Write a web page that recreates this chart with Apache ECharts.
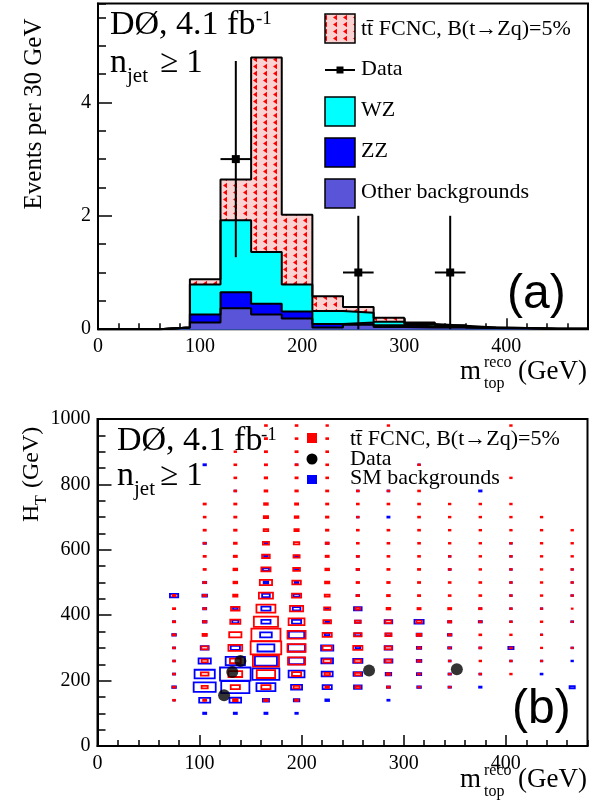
<!DOCTYPE html>
<html><head><meta charset="utf-8">
<script src="https://cdn.jsdelivr.net/npm/echarts@6/dist/echarts.min.js"></script>
<style>html,body{margin:0;padding:0;background:#fff}#c{width:600px;height:804px}</style>
</head><body><div id="c"></div>
<script>
// ---------- Panel (a): stacked histogram, 30 GeV bins ----------
const binEdges = [0,30,60,90,120,150,180,210,240,270,300,330,360,390,420,450,480];
const otherBkg = [0,0,0.03,0.12,0.37,0.26,0.19,0.03,0.08,0.04,0.03,0.03,0.02,0.015,0.01,0.01];
const zzBkg    = [0,0,0,0.14,0.28,0.19,0.12,0.06,0.04,0.03,0.02,0.01,0,0,0,0];
const wzBkg    = [0,0,0,0.53,1.27,0.91,0.48,0.23,0.17,0.06,0.04,0.02,0.01,0.005,0,0];
const fcncSig  = [0,0,0,0.09,0.72,3.43,1.23,0.26,0.10,0.07,0.03,0.01,0,0,0,0];

const dataMass    = [135, 255, 345];
const dataEvents  = [3, 1, 1];
const dataErrLow  = [1.73, 1, 1];
const dataErrHigh = [1.73, 1, 1];
const dataBinHalf = [15, 15, 15];

// ---------- Panel (b): 2D box plot, cells 30 GeV x 40 GeV ----------
const cellW = 30, cellH = 40;
// [m_top centre, H_T centre, relative box size]
const fcncCells = [
 [75,460,.10],[75,420,.07],[75,380,.07],[75,340,.08],[75,300,.06],[75,260,.06],[75,220,.06],[75,180,.07],[75,140,.06],
 [105,740,.07],[105,700,.06],[105,660,.07],[105,620,.06],[105,580,.07],[105,540,.07],[105,500,.08],[105,460,.10],[105,420,.08],[105,380,.10],[105,340,.14],[105,300,.22],[105,260,.20],[105,220,.25],[105,180,.20],[105,140,.10],
 [135,900,.05],[135,860,.06],[135,820,.06],[135,780,.06],[135,740,.07],[135,700,.07],[135,660,.08],[135,620,.09],[135,580,.10],[135,540,.12],[135,500,.12],[135,460,.14],[135,420,.28],[135,380,.33],[135,340,.40],[135,300,.45],[135,260,.35],[135,220,.45],[135,180,.30],[135,140,.15],
 [165,980,.06],[165,940,.07],[165,900,.07],[165,860,.07],[165,820,.08],[165,780,.09],[165,740,.12],[165,700,.14],[165,660,.15],[165,620,.20],[165,580,.25],[165,540,.30],[165,500,.40],[165,460,.46],[165,420,.62],[165,380,.79],[165,340,.95],[165,300,1.0],[165,260,.85],[165,220,.60],[165,180,.30],[165,140,.12],
 [195,980,.06],[195,940,.06],[195,900,.07],[195,860,.07],[195,820,.07],[195,780,.08],[195,740,.10],[195,700,.12],[195,660,.14],[195,620,.18],[195,580,.20],[195,540,.22],[195,500,.28],[195,460,.30],[195,420,.43],[195,380,.52],[195,340,.59],[195,300,.59],[195,260,.56],[195,220,.30],[195,180,.20],[195,140,.10],
 [225,980,.05],[225,940,.06],[225,900,.06],[225,860,.06],[225,820,.06],[225,780,.07],[225,740,.07],[225,700,.08],[225,660,.08],[225,620,.10],[225,580,.10],[225,540,.12],[225,500,.14],[225,460,.16],[225,420,.20],[225,380,.25],[225,340,.30],[225,300,.30],[225,260,.25],[225,220,.18],[225,180,.12],
 [255,780,.06],[255,740,.06],[255,700,.05],[255,660,.06],[255,620,.06],[255,580,.07],[255,540,.08],[255,500,.08],[255,460,.08],[255,420,.15],[255,380,.18],[255,340,.25],[255,300,.30],[255,260,.22],[255,220,.20],[255,180,.15],
 [285,980,.05],[285,780,.05],[285,740,.06],[285,660,.06],[285,620,.06],[285,580,.06],[285,540,.07],[285,500,.08],[285,460,.09],[285,420,.12],[285,380,.20],[285,340,.20],[285,300,.22],[285,260,.20],[285,220,.12],[285,180,.08],
 [315,860,.05],[315,780,.06],[315,740,.06],[315,700,.06],[315,660,.06],[315,620,.06],[315,580,.06],[315,540,.07],[315,500,.07],[315,460,.07],[315,420,.10],[315,380,.18],[315,340,.14],[315,300,.10],[315,260,.10],[315,220,.08],[315,180,.06],
 [345,740,.05],[345,700,.05],[345,660,.05],[345,620,.05],[345,580,.05],[345,540,.06],[345,500,.06],[345,460,.06],[345,420,.10],[345,380,.10],[345,340,.09],[345,300,.06],[345,260,.05],[345,220,.05],[345,180,.05],
 [375,740,.05],[375,700,.05],[375,660,.05],[375,620,.05],[375,580,.05],[375,540,.05],[375,500,.06],[375,460,.06],[375,420,.08],[375,380,.07],[375,340,.06],[375,300,.06],[375,260,.05],[375,220,.05],
 [405,980,.05],[405,820,.05],[405,740,.05],[405,700,.05],[405,660,.05],[405,620,.05],[405,580,.05],[405,540,.05],[405,500,.05],[405,460,.05],[405,420,.05],[405,380,.05],[405,340,.05],[405,300,.07],[405,260,.05],[405,220,.05],
 [435,700,.05],[435,660,.05],[435,620,.05],[435,580,.05],[435,540,.05],[435,500,.05],[435,460,.05],[435,420,.04],[435,380,.05],[435,340,.04],[435,300,.04],[435,260,.04],
 [465,660,.05],[465,620,.05],[465,580,.05],[465,540,.05],[465,500,.05],[465,460,.05],[465,420,.03],[465,380,.04],[465,300,.04]
];
const bkgCells = [
 [75,460,.27],[75,380,.07],[75,340,.12],[75,300,.06],[75,260,.05],[75,220,.07],[75,180,.12],[75,140,.04],
 [105,860,.08],[105,620,.08],[105,500,.10],[105,460,.15],[105,420,.10],[105,380,.12],[105,340,.10],[105,300,.26],[105,260,.40],[105,220,.66],[105,180,.72],[105,140,.36],[105,100,.10],
 [135,780,.05],[135,420,.15],[135,380,.20],[135,300,.30],[135,260,.63],[135,220,1.0],[135,180,.92],[135,140,.38],[135,100,.10],
 [165,620,.08],[165,580,.12],[165,540,.20],[165,500,.15],[165,460,.25],[165,420,.30],[165,380,.30],[165,340,.38],[165,300,.55],[165,260,.72],[165,220,.88],[165,180,.62],[165,140,.20],[165,100,.10],
 [195,860,.05],[195,580,.10],[195,540,.10],[195,500,.12],[195,460,.20],[195,420,.25],[195,380,.30],[195,340,.50],[195,300,.55],[195,260,.50],[195,220,.52],[195,180,.36],[195,140,.18],[195,100,.08],
 [225,620,.08],[225,420,.10],[225,380,.12],[225,340,.15],[225,300,.40],[225,260,.38],[225,220,.36],[225,180,.30],[225,140,.12],
 [255,780,.05],[255,700,.05],[255,580,.05],[255,540,.07],[255,460,.08],[255,420,.25],[255,380,.18],[255,340,.20],[255,300,.15],[255,260,.30],[255,220,.28],[255,180,.25],
 [285,780,.06],[285,700,.07],[285,380,.25],[285,340,.18],[285,300,.25],[285,260,.26],[285,220,.18],[285,180,.10],[285,140,.07],
 [315,860,.05],[315,380,.30],[315,340,.16],[315,300,.14],[315,260,.15],[315,220,.14],[315,180,.12],
 [345,580,.05],[345,540,.06],[345,380,.10],[345,340,.12],[345,300,.10],[345,260,.06],[345,220,.08],[345,180,.08],
 [375,780,.08],[375,420,.06],[375,380,.10],[375,300,.06],[375,220,.06],[375,180,.08],
 [405,620,.05],[405,580,.05],[405,540,.05],[405,500,.05],[405,460,.05],[405,420,.05],[405,380,.05],[405,300,.17],[405,260,.05],
 [435,420,.05],[435,340,.04],[435,260,.05],[435,220,.06],
 [465,540,.04],[465,500,.04],[465,460,.05],[465,380,.06],[465,300,.05],[465,260,.05],[465,180,.17]
];
const dataMtop = [124, 132, 140, 266, 352];
const dataHT   = [155, 226, 260, 231, 235];

// ---------- helpers ----------
const SERIF = '"Liberation Serif","Times New Roman",serif';
const SANS = '"Liberation Sans",Arial,sans-serif';

function makePattern() {
  const c = document.createElement('canvas'); c.width = 10; c.height = 7;
  const g = c.getContext('2d');
  g.fillStyle = '#fbd2d2'; g.fillRect(0, 0, 10, 7);
  g.fillStyle = '#ff0000';
  g.beginPath(); g.moveTo(3, 3.5); g.lineTo(7, 0.8); g.lineTo(7, 6.2); g.closePath(); g.fill();
  return c;
}
const hatch = { image: makePattern(), repeat: 'repeat' };

function cumulate(...arrs) {
  return arrs[0].map((_, i) => arrs.reduce((s, a) => s + a[i], 0));
}
function stepData(vals) {
  const d = vals.map((v, i) => [binEdges[i], v]);
  d.push([binEdges[binEdges.length - 1], vals[vals.length - 1]]);
  return d;
}
function histSeries(vals, fill) {
  return { type: 'line', xAxisIndex: 0, yAxisIndex: 0, step: 'end', symbol: 'none',
    data: stepData(vals), lineStyle: { color: '#000', width: 2 },
    areaStyle: { color: fill, opacity: 1 }, silent: true };
}
function T(x, baseline, text, size, fam, extra) {
  return Object.assign({ type: 'text', x: x, y: baseline - 0.34 * size, z: 100,
    style: { text: text, font: size + 'px ' + (fam || SERIF), fill: '#000', align: 'left', verticalAlign: 'middle' } }, extra || {});
}
function boxSeries(cells, color) {
  return { type: 'custom', xAxisIndex: 2, yAxisIndex: 2, data: cells, silent: true,
    renderItem(params, api) {
      const c = api.coord([api.value(0), api.value(1)]);
      const s = api.size([cellW, cellH]);
      const r = api.value(2);
      const w = s[0] * r, h = s[1] * r;
      return { type: 'rect', shape: { x: c[0] - w / 2, y: c[1] - h / 2, width: w, height: h },
        style: { fill: 'none', stroke: color, lineWidth: 1.8 } };
    } };
}
const lbl = { color: '#000', fontFamily: SERIF, fontSize: 20, formatter: v => String(v) };
function mainX(grid) {
  return { type: 'value', gridIndex: grid, min: 0, max: 480, interval: 100, position: 'bottom',
    axisLine: { show: true, lineStyle: { color: '#000', width: 2 } },
    axisTick: { inside: true, length: 11, lineStyle: { color: '#000', width: 1.5 } },
    axisLabel: Object.assign({ margin: 8, showMaxLabel: false }, lbl), splitLine: { show: false } };
}
function minorX(grid) {
  return { type: 'value', gridIndex: grid, min: 0, max: 480, interval: 20, position: 'bottom',
    axisLine: { show: false }, axisTick: { inside: true, length: 6, lineStyle: { color: '#000', width: 1.5 } },
    axisLabel: { show: false }, splitLine: { show: false } };
}
function mainY(grid, max, interval) {
  return { type: 'value', gridIndex: grid, min: 0, max: max, interval: interval, position: 'left',
    axisLine: { show: true, lineStyle: { color: '#000', width: 2 } },
    axisTick: { inside: true, length: 14, lineStyle: { color: '#000', width: 1.5 } },
    axisLabel: Object.assign({ margin: 7, showMaxLabel: max % interval === 0 }, lbl), splitLine: { show: false } };
}
function minorY(grid, max, interval) {
  return { type: 'value', gridIndex: grid, min: 0, max: max, interval: interval, position: 'left',
    axisLine: { show: false }, axisTick: { inside: true, length: 8, lineStyle: { color: '#000', width: 1.5 } },
    axisLabel: { show: false }, splitLine: { show: false } };
}

const wzCum = cumulate(otherBkg, zzBkg, wzBkg);
const zzCum = cumulate(otherBkg, zzBkg);
const totCum = cumulate(otherBkg, zzBkg, wzBkg, fcncSig);

const chart = echarts.init(document.getElementById('c'));
chart.setOption({
  animation: false,
  backgroundColor: '#fff',
  grid: [
    { left: 98, top: 3.5, width: 490, height: 325.7, show: true, borderColor: '#000', borderWidth: 2 },
    { left: 97.5, top: 419, width: 490, height: 327, show: true, borderColor: '#000', borderWidth: 2 }
  ],
  xAxis: [mainX(0), minorX(0), mainX(1), minorX(1)],
  yAxis: [mainY(0, 5.744, 2), minorY(0, 5.744, 0.5), mainY(1, 1000, 200), minorY(1, 1000, 50)],
  series: [
    histSeries(totCum, hatch),
    histSeries(wzCum, '#00ffff'),
    histSeries(zzCum, '#0000ff'),
    histSeries(otherBkg, '#5954d8'),
    { type: 'custom', xAxisIndex: 0, yAxisIndex: 0, silent: true, z: 5,
      data: dataMass.map((m, i) => [m, dataEvents[i], dataErrLow[i], dataErrHigh[i], dataBinHalf[i]]),
      renderItem(params, api) {
        const x = api.value(0), y = api.value(1);
        const p = api.coord([x, y]);
        const lo = api.coord([x, y - api.value(2)]), hi = api.coord([x, y + api.value(3)]);
        const l = api.coord([x - api.value(4), y]), r = api.coord([x + api.value(4), y]);
        const st = { stroke: '#000', lineWidth: 2 };
        return { type: 'group', children: [
          { type: 'line', shape: { x1: p[0], y1: lo[1], x2: p[0], y2: hi[1] }, style: st },
          { type: 'line', shape: { x1: l[0], y1: p[1], x2: r[0], y2: p[1] }, style: st },
          { type: 'rect', shape: { x: p[0] - 4, y: p[1] - 4, width: 8, height: 8 }, style: { fill: '#000' } }
        ] };
      } },
    boxSeries(bkgCells, '#0000ff'),
    boxSeries(fcncCells, '#ff0000'),
    { type: 'scatter', xAxisIndex: 2, yAxisIndex: 2, symbol: 'circle', symbolSize: 12, z: 6,
      itemStyle: { color: '#000' }, data: dataMtop.map((m, i) => [m, dataHT[i]]), silent: true }
  ],
  graphic: [
    // panel (a) annotations
    T(110, 37, 'DØ, 4.1 fb', 34), T(256, 25, '-1', 19),
    T(110, 75, 'n', 34), T(127, 84, 'jet', 21), T(160, 75, '≥ 1', 33),
    // legend (a)
    { type: 'rect', shape: { x: 325, y: 14, width: 30, height: 29 }, style: { fill: hatch, stroke: '#000', lineWidth: 1.5 }, z: 100 },
    { type: 'line', shape: { x1: 325, y1: 70, x2: 355, y2: 70 }, style: { stroke: '#000', lineWidth: 2 }, z: 100 },
    { type: 'rect', shape: { x: 336.5, y: 66.5, width: 7, height: 7 }, style: { fill: '#000' }, z: 100 },
    { type: 'rect', shape: { x: 325, y: 97, width: 30, height: 29 }, style: { fill: '#00ffff', stroke: '#000', lineWidth: 1.5 }, z: 100 },
    { type: 'rect', shape: { x: 325, y: 138, width: 30, height: 29 }, style: { fill: '#0000ff', stroke: '#000', lineWidth: 1.5 }, z: 100 },
    { type: 'rect', shape: { x: 325, y: 179, width: 30, height: 29 }, style: { fill: '#5954d8', stroke: '#000', lineWidth: 1.5 }, z: 100 },
    T(361, 37, 'tt\u0304 FCNC, B(t\u2192Zq)=5%', 22),
    T(361, 77, 'Data', 22),
    T(361, 118, 'WZ', 22),
    T(361, 159, 'ZZ', 22),
    T(361, 200, 'Other backgrounds', 22),
    T(507, 311, '(a)', 48, SANS),
    // y title (a)
    { type: 'text', x: 34, y: 114, rotation: Math.PI / 2, z: 100,
      style: { text: 'Events per 30 GeV', font: '25px ' + SERIF, fill: '#000', align: 'center', verticalAlign: 'middle' } },
    // x title (a)
    T(460, 381, 'm', 27), T(484, 368, 'reco', 16), T(484, 389, 'top', 16), T(518, 381, '(GeV)', 27),

    // panel (b) annotations
    T(117, 453, 'DØ, 4.1 fb', 34), T(261, 441, '-1', 19),
    T(117, 488, 'n', 34), T(134, 497, 'jet', 21), T(160, 488, '≥ 1', 33),
    // legend (b)
    { type: 'rect', shape: { x: 307, y: 433, width: 10, height: 10 }, style: { fill: '#ff0000' }, z: 100 },
    { type: 'circle', shape: { cx: 312, cy: 459, r: 5.5 }, style: { fill: '#000' }, z: 100 },
    { type: 'rect', shape: { x: 307, y: 475, width: 10, height: 9 }, style: { fill: '#0000ff' }, z: 100 },
    T(350, 447, 'tt\u0304 FCNC, B(t\u2192Zq)=5%', 22),
    T(350, 467, 'Data', 22),
    T(350, 486, 'SM backgrounds', 22),
    T(512, 726, '(b)', 48, SANS),
    // y title (b)
    { type: 'group', x: 40, y: 522, rotation: Math.PI / 2, z: 100, children: [
      { type: 'text', x: 0, y: -8, style: { text: 'H', font: '24px ' + SERIF, fill: '#000', align: 'left', verticalAlign: 'middle' } },
      { type: 'text', x: 17, y: 2, style: { text: 'T', font: '16px ' + SERIF, fill: '#000', align: 'left', verticalAlign: 'middle' } },
      { type: 'text', x: 34, y: -8, style: { text: '(GeV)', font: '24px ' + SERIF, fill: '#000', align: 'left', verticalAlign: 'middle' } }
    ] },
    // x title (b)
    T(460, 789, 'm', 27), T(484, 776, 'reco', 16), T(484, 797, 'top', 16), T(518, 789, '(GeV)', 27)
  ]
});
</script></body></html>
